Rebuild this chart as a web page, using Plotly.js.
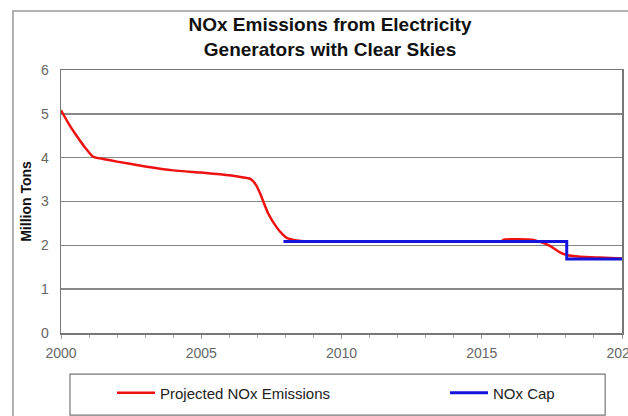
<!DOCTYPE html>
<html>
<head>
<meta charset="utf-8">
<script src="https://cdn.plot.ly/plotly-3.0.1.min.js"></script>
<style>html,body{margin:0;padding:0;background:#fff;}#chart{width:628px;height:416px;}</style>
</head>
<body>
<div id="chart"></div>
<script>
// Projected NOx emissions (million tons)
const emisYears = [2000, 2000.25, 2000.5, 2000.8, 2001.15, 2001.5, 2002, 2003, 2004, 2005, 2005.67, 2006.4, 2006.74, 2006.95, 2007.1, 2007.39, 2007.69, 2007.9, 2008.05, 2008.4, 2008.8, 2010, 2012, 2014, 2015.7, 2015.78, 2016.8, 2017.08, 2017.43, 2017.79, 2018.03, 2018.5, 2019.2, 2020];
const emisValues = [5.08, 4.8, 4.55, 4.28, 4.02, 3.97, 3.91, 3.8, 3.71, 3.66, 3.62, 3.56, 3.52, 3.38, 3.18, 2.72, 2.41, 2.25, 2.17, 2.11, 2.09, 2.09, 2.09, 2.09, 2.09, 2.13, 2.13, 2.08, 1.99, 1.84, 1.78, 1.74, 1.72, 1.7];
// NOx cap (million tons)
const capYears = [2007.93, 2018.03, 2018.03, 2020];
const capValues = [2.09, 2.09, 1.69, 1.69];
const xTickVals = [2000, 2005, 2010, 2015, 2020];
const xTickText = ['2000', '2005', '2010', '2015', '2020'];
const seriesNames = ['Projected NOx Emissions', 'NOx Cap'];

const traces = [
  {x: emisYears, y: emisValues, type: 'scatter', mode: 'lines', name: seriesNames[0], legend: 'legend',
   line: {color: '#ee1111', width: 2.5, shape: 'spline', smoothing: 0.5}},
  {x: capYears, y: capValues, type: 'scatter', mode: 'lines', name: seriesNames[1], legend: 'legend2',
   line: {color: '#1414dd', width: 3}}
];

const legendCommon = {orientation: 'h', xanchor: 'left', y: -0.228, yanchor: 'middle',
  bgcolor: 'rgba(0,0,0,0)', borderwidth: 0, font: {size: 15, color: '#222'}, itemwidth: 38};

const layout = {
  width: 628, height: 416,
  margin: {l: 61, r: 6, t: 70, b: 83},
  paper_bgcolor: '#fff', plot_bgcolor: '#fff',
  font: {family: 'Liberation Sans, Arial, sans-serif', color: '#222'},
  title: {text: 'NOx Emissions from Electricity<br>Generators with Clear Skies',
          font: {size: 19, color: '#111', weight: 'bold'},
          x: 0.5255, xref: 'container', xanchor: 'center', y: 0.925, yref: 'container', yanchor: 'middle'},
  xaxis: {range: [2000, 2020], tickvals: xTickVals, ticktext: xTickText,
          showgrid: false, zeroline: false, showline: true, linecolor: '#777', linewidth: 1.5, mirror: true,
          ticks: 'outside', ticklen: 4, tickcolor: '#999', ticklabelstandoff: 3, ticklabeloverflow: 'allow',
          minor: {dtick: 1, tick0: 2000, ticks: 'outside', ticklen: 3, tickcolor: '#aaa', showgrid: false},
          tickfont: {size: 14, color: '#666'}},
  yaxis: {range: [0, 6], dtick: 1, showgrid: true, gridcolor: '#888', gridwidth: 1.5,
          zeroline: false, showline: true, linecolor: '#777', linewidth: 1.5, mirror: true,
          ticks: '', ticklabelstandoff: 8, tickfont: {size: 14, color: '#666'},
          title: {text: 'Million Tons', font: {size: 14, color: '#111', weight: 'bold'}, standoff: 6}},
  showlegend: true,
  legend: Object.assign({}, legendCommon, {x: 0.0909}),
  legend2: Object.assign({}, legendCommon, {x: 0.6845}),
  shapes: [
    {type: 'rect', xref: 'paper', yref: 'paper', x0: 0.016, x1: 0.970, y0: -0.156, y1: -0.312,
     line: {color: '#777', width: 1.2}, fillcolor: 'rgba(0,0,0,0)'},
    {type: 'rect', xref: 'paper', yref: 'paper', x0: -0.0856, x1: 1.2, y0: -0.5, y1: 1.224,
     line: {color: '#999', width: 1.5}, fillcolor: 'rgba(0,0,0,0)', layer: 'below'}
  ]
};

Plotly.newPlot('chart', traces, layout, {displayModeBar: false, staticPlot: true});
</script>
</body>
</html>
